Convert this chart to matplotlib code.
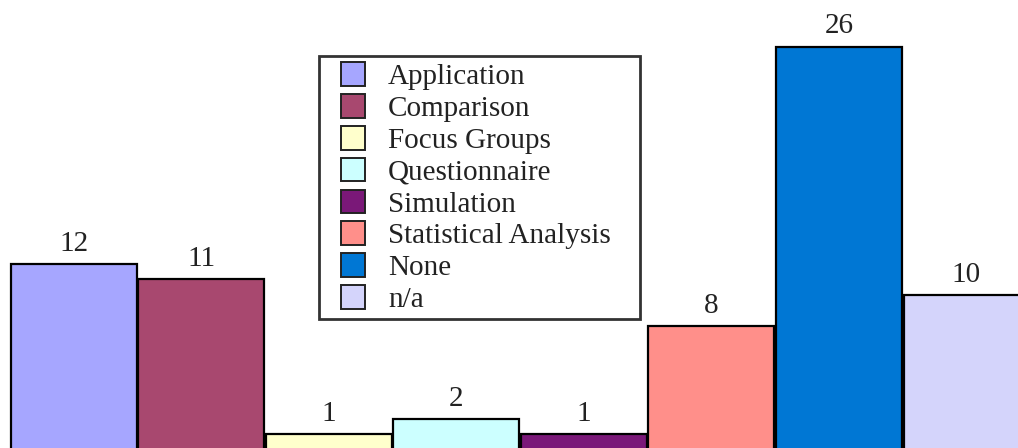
import matplotlib
matplotlib.use("Agg")
import matplotlib.pyplot as plt
from matplotlib.patches import Patch, Rectangle
from matplotlib.legend_handler import HandlerPatch

categories = ["Application", "Comparison", "Focus Groups", "Questionnaire",
              "Simulation", "Statistical Analysis", "None", "n/a"]
values = [12, 11, 1, 2, 1, 8, 26, 10]
colors = ["#a6a6ff", "#a8486f", "#ffffcc", "#ccffff",
          "#7a1878", "#ff8f8a", "#0077d4", "#d4d4fb"]

plt.rcParams['font.family'] = ['Liberation Serif', 'DejaVu Serif']

fig = plt.figure(figsize=(10.18, 4.48), dpi=100)
ax = fig.add_axes([0, 0, 1, 1])
x = list(range(len(values)))
bars = ax.bar(x, values, width=0.988, color=colors, edgecolor="black", linewidth=1.6)
for xi, v in zip(x, values):
    ax.text(xi, v + 0.85, str(v), ha="center", va="baseline", fontsize=21, color="#222222")

ax.set_xlim(-0.580, 7.404)
ax.set_ylim(0.13, 29.0)
ax.axis("off")


def square_patch(legend, orig_handle, xdescent, ydescent, width, height, fontsize):
    side = height
    return Rectangle((-xdescent + width - side, -ydescent), side, side)


handles = [Patch(facecolor=c, edgecolor="#222222", linewidth=1.4) for c in colors]
leg = fig.legend(handles, categories, loc="upper left",
                 bbox_to_anchor=(0.3129, 0.0, 0.3153, 0.875), bbox_transform=fig.transFigure,
                 mode="expand",
                 borderaxespad=0, frameon=True, fancybox=False, fontsize=21,
                 handlelength=1.40, handleheight=0.88, labelspacing=0.135,
                 handletextpad=0.78, borderpad=0.2,
                 handler_map={Patch: HandlerPatch(patch_func=square_patch)})
leg.get_frame().set_edgecolor("black")
leg.get_frame().set_linewidth(2.0)
for t in leg.get_texts():
    t.set_color("#222222")

fig.savefig("out.png", dpi=100)
